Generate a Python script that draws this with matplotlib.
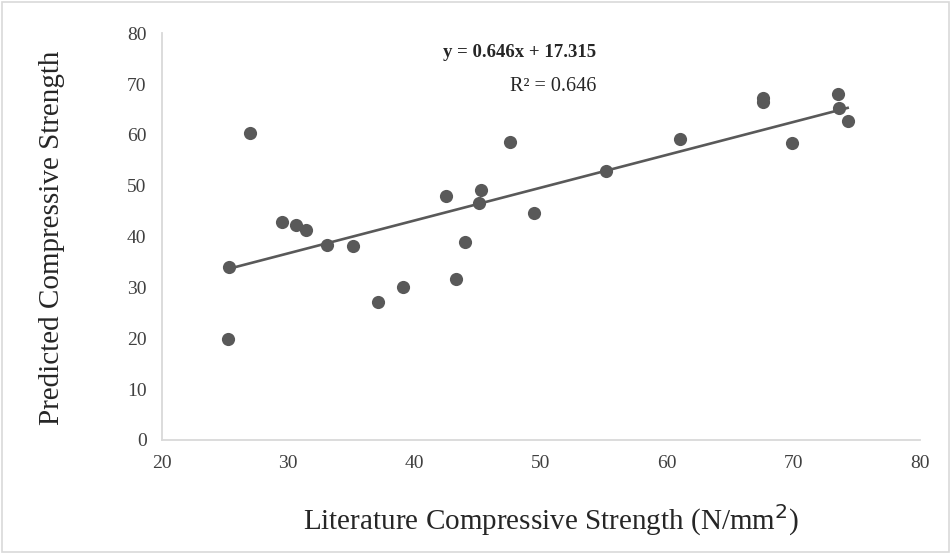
import matplotlib
matplotlib.use("Agg")
import matplotlib.pyplot as plt
from matplotlib.patches import Rectangle

# literature vs predicted compressive strength
literature = [25.3, 25.25, 26.97, 29.55, 30.6, 31.4, 33.1, 35.15, 37.1, 39.1,
              42.5, 43.3, 44.0, 45.3, 45.1, 47.55, 49.45, 55.2, 61.0, 67.6,
              67.6, 69.9, 73.5, 73.6, 74.3]
predicted = [34.1, 19.8, 60.4, 42.8, 42.3, 41.2, 38.4, 38.1, 27.2, 30.0,
             47.9, 31.7, 39.0, 49.2, 46.7, 58.7, 44.7, 52.8, 59.2, 67.2,
             66.5, 58.5, 68.1, 65.3, 62.7]
slope = 0.646
intercept = 17.315
r2 = 0.646

xticks = [20, 30, 40, 50, 60, 70, 80]
yticks = [0, 10, 20, 30, 40, 50, 60, 70, 80]

plt.rcParams['font.family'] = ['Liberation Serif', 'DejaVu Serif']

fig = plt.figure(figsize=(9.52, 5.54), dpi=100)
ax = fig.add_axes([0.170, 0.206, 0.796, 0.734])

ax.scatter(literature, predicted, s=90, color='#595959', zorder=3, linewidths=0)

# trendline over the data range
x0 = min(literature)
x1 = max(literature)
ax.plot([x0, x1], [slope * x0 + intercept, slope * x1 + intercept],
        color='#595959', linewidth=1.9, zorder=2)

ax.set_xlim(20, 80)
ax.set_ylim(0, 80)
ax.set_xticks(xticks)
ax.set_yticks(yticks)
ax.tick_params(length=0, labelsize=14, labelcolor='#404040', pad=11)

for s in ['top', 'right']:
    ax.spines[s].set_visible(False)
for s in ['left', 'bottom']:
    ax.spines[s].set_color('#d9d9d9')
    ax.spines[s].set_linewidth(1.3)

ax.text(54.4, 76.3, 'y = 0.646x + 17.315', ha='right', va='center',
        fontsize=13.5, fontweight='bold', color='#262626')
ax.text(54.4, 69.6, 'R² = ' + str(r2), ha='right', va='center',
        fontsize=14.5, color='#262626')

fig.text(0.579, 0.061, 'Literature Compressive Strength (N/mm$^{2}$)', fontsize=21,
         color='#262626', ha='center', va='center')
fig.text(0.055, 0.570, 'Predicted Compressive Strength', fontsize=21,
         color='#262626', ha='center', va='center', rotation=90)

fig.patches.append(Rectangle((0.002, 0.003), 0.995, 0.994, transform=fig.transFigure,
                             fill=False, edgecolor='#d9d9d9', linewidth=1.2))

fig.savefig('out.png', dpi=100)
